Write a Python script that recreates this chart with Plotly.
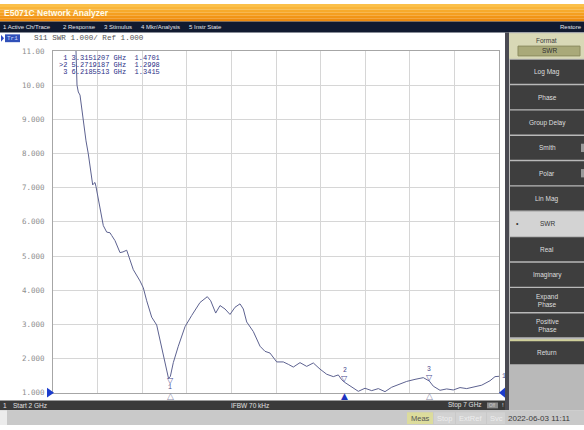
import plotly.graph_objects as go

W, H = 584, 430

# S11 SWR sweep, 2 GHz to 7 GHz
freq_ghz = [
    2.2466, 2.2578, 2.2691, 2.2747, 2.2836, 2.3027, 2.3217, 2.3397, 2.3700, 2.3957,
    2.4148, 2.4339, 2.4451, 2.4596, 2.4709, 2.4821, 2.5079, 2.5348, 2.5639, 2.6020,
    2.6390, 2.6581, 2.6951, 2.7511, 2.7848, 2.8262, 2.8632, 2.9002, 2.9753, 3.0123,
    3.0504, 3.1065, 3.1625, 3.1996, 3.2556, 3.2948, 3.3151, 3.3487, 3.4048, 3.4798,
    3.5549, 3.6480, 3.7298, 3.7679, 3.8240, 3.8722, 3.9283, 3.9843, 4.0404, 4.0964,
    4.1334, 4.1715, 4.2455, 4.3206, 4.3767, 4.4327, 4.5078, 4.5818, 4.6379, 4.6939,
    4.7691, 4.8442, 4.9182, 4.9933, 5.0684, 5.1424, 5.1984, 5.2366, 5.2719, 5.3487,
    5.4226, 5.4978, 5.5729, 5.6469, 5.7220, 5.7971, 5.8901, 5.9652, 6.0583, 6.1513,
    6.2186, 6.2635, 6.3386, 6.4137, 6.4877, 6.5628, 6.6379, 6.7119, 6.8061, 6.8991,
    6.9552, 7.0000,
]
swr = [
    11.30, 11.00, 10.00, 9.85, 9.80, 9.71, 9.33, 8.85, 8.37, 7.99,
    7.61, 7.18, 7.08, 7.13, 7.15, 7.03, 6.65, 6.27, 5.89, 5.70,
    5.68, 5.60, 5.45, 5.10, 5.12, 5.17, 4.85, 4.60, 4.27, 4.07,
    3.69, 3.21, 2.98, 2.55, 1.88, 1.42, 1.4701, 1.88, 2.36, 2.93,
    3.26, 3.64, 3.81, 3.69, 3.33, 3.55, 3.45, 3.29, 3.50, 3.60,
    3.45, 3.07, 2.79, 2.36, 2.21, 2.16, 1.90, 1.90, 1.83, 1.75,
    1.88, 1.77, 1.87, 1.69, 1.54, 1.47, 1.52, 1.38, 1.2998, 1.18,
    1.04, 1.13, 1.06, 1.12, 1.03, 1.16, 1.25, 1.33, 1.39, 1.44,
    1.3415, 1.19, 1.07, 1.11, 1.08, 1.15, 1.12, 1.16, 1.22, 1.35,
    1.47, 1.48,
]

marker_ids = ["1", "2", "3"]
marker_freq_ghz = [3.3151207, 5.2719187, 6.2185513]
marker_swr = [1.4701, 1.2998, 1.3415]
active_marker = "2"

swr_ticks = [1, 2, 3, 4, 5, 6, 7, 8, 9, 10, 11]
swr_tick_labels = ["1.000", "2.000", "3.000", "4.000", "5.000", "6.000",
                   "7.000", "8.000", "9.000", "10.00", "11.00"]

menu_items = ["1 Active Ch/Trace", "2 Response", "3 Stimulus", "4 Mkr/Analysis", "5 Instr State"]
softkeys = ["Log Mag", "Phase", "Group Delay", "Smith", "Polar", "Lin Mag", "SWR",
            "Real", "Imaginary", "Expand<br>Phase", "Positive<br>Phase", "Return"]
selected_key = "SWR"

NBSP = "\u00a0"
MONO = "Liberation Mono, DejaVu Sans Mono, monospace"
SANS = "Liberation Sans, DejaVu Sans, Arial, sans-serif"


def px(x):
    return x / W


def py(y):
    return 1 - y / H


shapes = []
annotations = []


def rect(x0, y0, x1, y1, fill, line=None, lw=1):
    shapes.append(dict(type="rect", xref="paper", yref="paper",
                       x0=px(x0), x1=px(x1), y0=py(y1), y1=py(y0),
                       fillcolor=fill, layer="above",
                       line=dict(color=line or fill, width=lw if line else 0)))


def tri(points, fill):
    path = "M " + " L ".join(f"{px(a)},{py(b)}" for a, b in points) + " Z"
    shapes.append(dict(type="path", xref="paper", yref="paper", path=path,
                       fillcolor=fill, line=dict(color=fill, width=0), layer="above"))


def text(x, y, s, size=7, color="#222", anchor="left", family=SANS, bold=False):
    if bold:
        s = f"<b>{s}</b>"
    annotations.append(dict(xref="paper", yref="paper", x=px(x), y=py(y), text=s,
                            showarrow=False, xanchor=anchor, yanchor="middle",
                            font=dict(size=size, color=color, family=family),
                            borderpad=0))


# ---- title bar (orange gradient) ----
orange = ["#fbc04a", "#f9b53a", "#f7aa2c", "#f59f20", "#f29516", "#ee8c10"]
for i, c in enumerate(orange):
    rect(0, i * 3, W, i * 3 + 3, c)
text(3, 9, "E5071C Network Analyzer", size=8.5, color="#fffbe8", bold=True)

# ---- menu bar ----
rect(0, 18, W, 29, "#111a30")
menu_x = [2, 62, 103, 140, 188]
for mx, item in zip(menu_x, menu_items):
    text(mx, 23.5, item, size=6, color="#e4e4ea")
text(583, 23.5, "Restore", size=6, color="#e4e4ea", anchor="right")

# ---- trace header ----
tri([(1, 31.5), (1, 38.5), (4, 35)], "#2a45c0")
rect(5, 31, 20, 39, "#3050b8")
text(12.5, 35, "Tr1", size=6, color="#cfd8ff", anchor="center", family=MONO)
text(33, 35, f"S11{NBSP}SWR{NBSP}1.000/{NBSP}Ref{NBSP}1.000", size=7.6,
     color="#555", family=MONO)

# ---- marker readout ----
for i, (mid, f, v) in enumerate(zip(marker_ids, marker_freq_ghz, marker_swr)):
    lead = ">" if mid == active_marker else NBSP
    row = f"{lead}{mid}{NBSP}{f:.7f}{NBSP}GHz{NBSP}{NBSP}{v:.4f}"
    text(58, 55 + 7 * i, row, size=7, color="#2b2f86", family=MONO)

# ---- reference-level arrows ----
tri([(47, 392), (47, 402), (54, 397)], "#1c3ccc")
tri([(506, 391), (506, 403), (499, 397)], "#1c3ccc")

# ---- window divider and bottom stimulus bar ----
rect(505, 29, 509, 415, "#4a4a52")
rect(0, 405, 505, 415, "#3a3a3a")
text(2, 410, "1", size=6.5, color="#e0e0e0")
text(12, 410, "Start 2 GHz", size=6.5, color="#e0e0e0")
text(230, 410, "IFBW 70 kHz", size=6.5, color="#e0e0e0")
text(447, 410, "Stop 7 GHz", size=6.5, color="#e0e0e0")
rect(487, 407, 498, 413, "#8a8a8a")
text(492.5, 410, "Off", size=4.5, color="#cfcfcf", anchor="center")
text(501, 410, "!", size=6, color="#e0e0e0")

# ---- status bar ----
rect(0, 415, W, H, "#c9c9c9")
rect(0, 415, 7, H, "#ececec")
rect(407, 417, 433, H - 1, "#dcdc9c")
text(420, 423, "Meas", size=7.5, color="#555", anchor="center")
for x0, x1, s in [(434, 455, "Stop"), (456, 486, "ExtRef"), (487, 505, "Svc")]:
    rect(x0, 417, x1, H - 1, "#d2d2d2")
    text((x0 + x1) / 2, 423, s, size=7.5, color="#ededed", anchor="center")
text(507, 423, "2022-06-03 11:11", size=8, color="#3a3a3a")

# ---- softkey panel ----
rect(509, 29, W, 415, "#b9b9b9")
rect(509, 30, W, 56, "#d8d8b6")
text(546.5, 37, "Format", size=6.5, color="#3c3c3c", anchor="center")
rect(518, 43, 580, 53, "#a9a979", line="#8c8c60")
text(549, 48, "SWR", size=6.5, color="#303030", anchor="center")
key_top = 57
pitch = 25.9
for i, key in enumerate(softkeys):
    y0 = key_top + i * pitch + (1.5 if key == "Return" else 0)
    y1 = y0 + 24.5
    sel = key == selected_key
    rect(510, y0, W, y1, "#d3d3d3" if sel else "#3e3e3e")
    text(547, (y0 + y1) / 2, key, size=6.5,
         color="#333" if sel else "#dedede", anchor="center")
    if sel:
        text(517, (y0 + y1) / 2, "•", size=7, color="#333", anchor="center")
    if key in ("Smith", "Polar"):
        rect(581, y0 + 8, W, y1 - 8, "#9a9a9a")
rect(510, 342.5, W, 344.5, "#cfcf9a")

# ---- plot ----
fig = go.Figure()
fig.add_trace(go.Scatter(x=freq_ghz, y=swr, mode="lines",
                         line=dict(color="#5d6290", width=1),
                         hoverinfo="skip", showlegend=False))

# markers drawn on the trace
for mid, f, v in zip(marker_ids, marker_freq_ghz, marker_swr):
    below = mid == "1"
    annotations.append(dict(xref="x", yref="y", x=f, y=v, text="▽", showarrow=False,
                            xanchor="center", yanchor="middle",
                            yshift=-4 if below else 4, borderpad=0,
                            font=dict(size=8, color="#4a4a90", family="DejaVu Sans")))
    annotations.append(dict(xref="x", yref="y", x=f, y=v, text=mid, showarrow=False,
                            xanchor="center", yanchor="middle",
                            yshift=-11 if below else 12, borderpad=0,
                            font=dict(size=6.5, color="#4a4a90", family=MONO)))
    # stimulus position indicator under the grid
    active = mid == active_marker
    annotations.append(dict(xref="x", yref="paper", x=f, y=py(400.5),
                            text="▲" if active else "△", showarrow=False,
                            xanchor="center", yanchor="middle", borderpad=0,
                            font=dict(size=9, color="#1c34c0" if active else "#8a8aa8",
                                      family="DejaVu Sans")))

# trace number at the right end
annotations.append(dict(xref="x", yref="y", x=freq_ghz[-1], y=swr[-1], text="1",
                        showarrow=False, xanchor="left", yanchor="middle", xshift=1,
                        font=dict(size=6.5, color="#4a4a90", family=MONO)))

fig.update_layout(
    width=W, height=H, autosize=False,
    margin=dict(l=0, r=0, t=0, b=0, pad=0),
    paper_bgcolor="white", plot_bgcolor="white",
    shapes=shapes, annotations=annotations,
    xaxis=dict(domain=[px(53), px(499)], range=[2, 7], tick0=2, dtick=0.5,
               showgrid=True, gridcolor="#d6d6d6", gridwidth=1,
               showticklabels=False, ticks="", zeroline=False,
               showline=True, mirror=True, linecolor="#a6a6a6", linewidth=1,
               fixedrange=True),
    yaxis=dict(domain=[py(397), py(48)], range=[1, 11],
               tickmode="array", tickvals=swr_ticks, ticktext=swr_tick_labels,
               showgrid=True, gridcolor="#d6d6d6", gridwidth=1,
               ticks="", ticklabelstandoff=6, zeroline=False,
               tickfont=dict(family="DejaVu Sans Mono", size=7.5, color="#8e8e8e"),
               showline=True, mirror=True, linecolor="#a6a6a6", linewidth=1,
               fixedrange=True),
)

fig.write_html("out.html")
